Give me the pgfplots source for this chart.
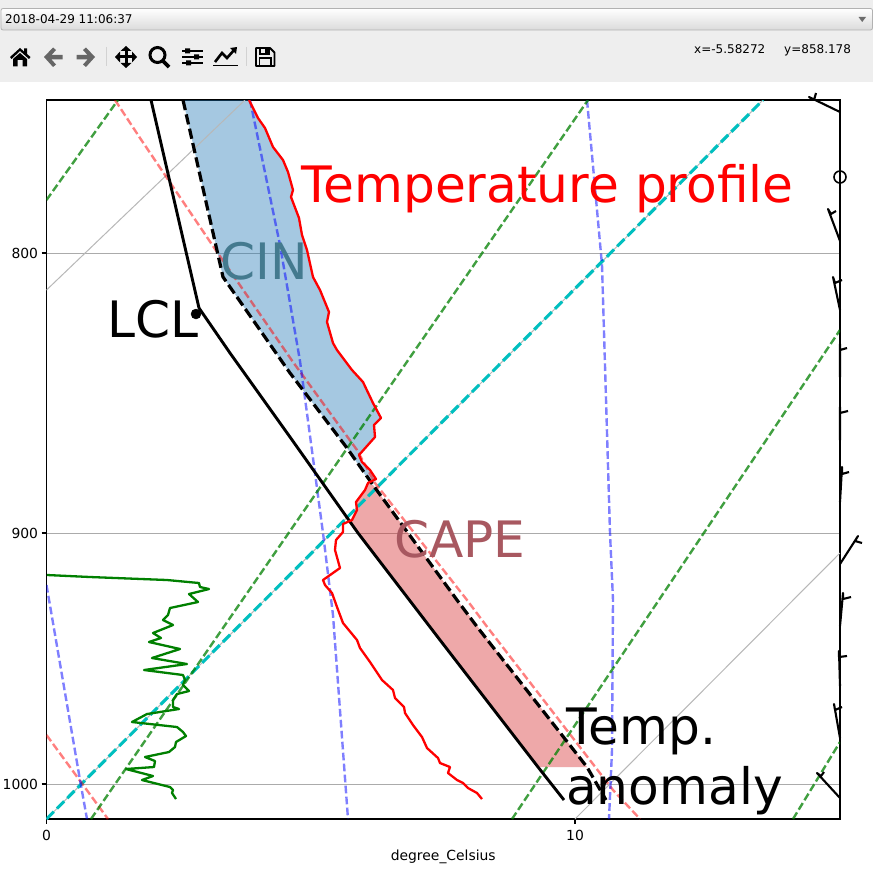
\documentclass[border=0pt]{standalone}
\usepackage{fontspec}
\setmainfont{DejaVu Sans}
\usepackage{pgfplots}
\pgfplotsset{compat=1.18}
\definecolor{cinc}{HTML}{1F77B4}
\definecolor{capec}{HTML}{D62728}
\definecolor{cintxt}{HTML}{447A8F}
\definecolor{capetxt}{HTML}{A85860}
\definecolor{gridc}{HTML}{ABABAB}
\definecolor{tealc}{HTML}{00BFBF}
\definecolor{tbar}{HTML}{EEEEEE}
\definecolor{icong}{HTML}{666666}
\pgfplotsset{
 base/.style={at={(46.5pt,-819pt)},anchor=south west,scale only axis,width=793.5pt,height=719pt,
  xmin=46.5,xmax=840,ymin=100,ymax=819,y dir=reverse},
 gl/.style={gridc!85!white,line width=1pt},
 pk/.style={red,opacity=0.5,line width=2.4pt,dash pattern=on 7.7pt off 3.3pt},
 bl/.style={blue,opacity=0.5,line width=2.4pt,dash pattern=on 7.7pt off 3.3pt},
 gr/.style={green!50!black,opacity=0.75,line width=2.4pt,dash pattern=on 7.7pt off 3.3pt},
 tl/.style={tealc,line width=3.1pt,dash pattern=on 10.3pt off 4.4pt},
 bb/.style={black,line width=2.1pt,line join=round},
}
\begin{document}
\begin{tikzpicture}
\path[use as bounding box,fill=white] (0pt,0pt) rectangle (873pt,-883pt);
\begin{scope}[x=1pt,y=-1pt]
\fill[tbar] (0,0) rectangle (873,82);
\shade[top color=white,bottom color=tbar!92!black,draw=gray!60,rounded corners=2pt,line width=0.8pt] (1,8.5) rectangle (872.5,30);
\node[anchor=base west,inner sep=0,font=\fontsize{12pt}{13pt}\selectfont] at (5,24) {2018-04-29 11:06:37};
\fill[gray!85!black] (858.5,17) -- (866,17) -- (862.2,22) -- cycle;
\node[anchor=base west,inner sep=0,font=\fontsize{12pt}{13pt}\selectfont] at (694,53) {x=-5.58272};
\node[anchor=base west,inner sep=0,font=\fontsize{12pt}{13pt}\selectfont] at (784,53) {y=858.178};
% home
\fill[black] (10,57) -- (20,48) -- (24,51.5) -- (24,48.5) -- (27,48.5) -- (27,54) -- (30.5,57) -- (29,59) -- (20,51) -- (11.5,59) -- cycle;
\fill[black] (13,59) -- (20,53) -- (27,59) -- (27,66.5) -- (22.5,66.5) -- (22.5,60) -- (17.5,60) -- (17.5,66.5) -- (13,66.5) -- cycle;
% back / forward
\fill[icong] (44,57) -- (53,47.5) -- (56,50) -- (51.5,55) -- (62.5,55) -- (62.5,59.5) -- (51.5,59.5) -- (56,64.5) -- (53,67) -- cycle;
\fill[icong] (95,57) -- (86,47.5) -- (83,50) -- (87.5,55) -- (76.5,55) -- (76.5,59.5) -- (87.5,59.5) -- (83,64.5) -- (86,67) -- cycle;
\draw[gray!35,line width=1pt] (106,47) -- (106,66);
\draw[gray!35,line width=1pt] (246,47) -- (246,66);
% move
\draw[black,line width=3pt] (117,57) -- (135,57) (126,48) -- (126,66);
\fill[black] (115,57) -- (120,51.5) -- (120,62.5) -- cycle (137,57) -- (132,51.5) -- (132,62.5) -- cycle (126,46) -- (120.5,51) -- (131.5,51) -- cycle (126,68) -- (120.5,63) -- (131.5,63) -- cycle;
% zoom
\draw[black,line width=3pt] (157.5,55) circle (7.5);
\draw[black,line width=3.8pt] (163,61) -- (169,67);
% sliders
\draw[black,line width=1.6pt] (182,51) -- (203,51) (182,57) -- (203,57) (182,63) -- (203,63);
\fill[black] (185,48.5) rectangle (190,53.5) (194,54.5) rectangle (199,59.5) (186,60.5) rectangle (191,65.5);
% chart
\draw[black,line width=1.6pt] (213,65.5) -- (238,65.5);
\draw[black,line width=2.6pt] (215,62) -- (222,53) -- (227,58) -- (235,49);
\fill[black] (237,47) -- (230,48) -- (236,54) -- cycle;
% save
\draw[black,line width=1.8pt,line join=round] (256,48) -- (270,48) -- (274.5,52.5) -- (274.5,66) -- (256,66) -- cycle;
\draw[black,line width=1.6pt] (259.5,66) -- (259.5,58) -- (271,58) -- (271,66);
\draw[black,line width=1.6pt] (260,48) -- (260,54) -- (269,54) -- (269,48);
\fill[black] (265,49) rectangle (268,53);
\end{scope}
\begin{axis}[base,
 axis line style={line width=1.1pt},
 xtick={46.5,575},xticklabels={0,10},
 ytick={253,533,784},yticklabels={800,900,1000},
 xtick pos=bottom,ytick pos=left,tick align=outside,
 major tick length=4.9pt,
 tick style={line width=1.1pt,black},
 ymajorgrids,grid style={gridc,line width=1pt},
 ticklabel style={font=\fontsize{13.9pt}{15pt}\selectfont},
 xticklabel style={yshift=-2.5pt},
 yticklabel style={xshift=0pt,yshift=-0.5pt},
 xlabel={degree\_Celsius},
 xlabel style={font=\fontsize{13.9pt}{15pt}\selectfont,yshift=-2.5pt},
]
% CIN area
\addplot[draw=none,fill=cinc,fill opacity=0.4] coordinates {
(249,100)(258,118)(265,128)(273,147)(283,160)(288,172)(293,190)(291,197)(299,218)(302,235)(307,250)(313,277)(320,290)(329,312)(327,322)(333,343)(337,350)(352,370)(363,382)(373,403)(381,418)(374,425)(375,437)(359,455)(362,462)(370,470)(376,479)(372,485)
(347,448)(290,373)(283,363)(223,277)(183,100)};
% CAPE area
\addplot[draw=none,fill=capec,fill opacity=0.4] coordinates {
(372,485)(368,483)(365,490)(356,502)(357,510)(352,520)(350,521)(358,533)(440,640)(538,767)(587,767)(457,600)(373,485)};
% thin grey skew lines
\addplot[gl] coordinates {(46.5,290)(245,100)};
\addplot[gl] coordinates {(575,819)(840,553)};
\addplot[gl] coordinates {(46.5,819)(763,100)};
\addplot[tl] coordinates {(46.5,819)(763,100)};
% dry adiabats
\addplot[pk] coordinates {(115,100)(140,138)(217,252)(293,362)(357,450)(375,483)(467,600)(488,628)(613,790)(640,819)};
\addplot[pk] coordinates {(46.5,735)(108,819)};
% moist adiabats
\addplot[bl] coordinates {(250,100)(280,245)(300,361)(323,533)(333,615)(348,819)};
\addplot[bl] coordinates {(587,100)(602,265)(610,533)(613,600)(612,750)(609,819)};
\addplot[bl] coordinates {(46.5,585)(80,780)(87,819)};
% mixing ratio
\addplot[gr] coordinates {(46.5,200)(118,100)};
\addplot[gr] coordinates {(91,819)(375,408)(588,100)};
\addplot[gr] coordinates {(512,819)(840,330)};
\addplot[gr] coordinates {(793,819)(840,742)};
% parcel profile
\addplot[black,line width=2.9pt,line join=round] coordinates {(151,100)(199,308)(230,353)(290,437)(358,533)(440,640)(538,767)(564,800)};
\addplot[black,line width=3.2pt,dash pattern=on 10.3pt off 4.4pt] coordinates {(183,100)(223,277)(283,363)(290,373)(347,448)(373,485)(457,600)(478,628)(587,767)(606,800)};
% temperature
\addplot[red,line width=2.3pt,line join=round] coordinates {
(249,100)(258,118)(265,128)(273,147)(283,160)(288,172)(293,190)(291,197)(299,218)(302,235)(307,250)(313,277)(320,290)(329,312)(327,322)(333,343)(337,350)(352,370)(363,382)(373,403)(381,418)(374,425)(375,437)(359,455)(362,462)(370,470)(376,479)(368,483)(365,490)(356,502)(357,510)(352,520)(343,524)(343,532)(336,540)(335,550)(340,568)(323,580)(325,585)(332,593)(337,607)(343,623)(357,640)(360,648)(370,662)(382,680)(393,690)(395,698)(404,707)(405,713)(413,725)(422,737)(427,748)(438,758)(440,763)(450,767)(448,773)(457,780)(463,783)(468,788)(477,793)(482,799)};
% dew point
\addplot[green!50!black,line width=2.3pt,line join=round] coordinates {
(47,575)(90,577)(167,580)(199,583)(200,587)(209,589)(189,594)(198,602)(170,608)(168,615)(163,620)(173,625)(153,633)(161,638)(149,642)(180,649)(152,658)(187,664)(144,670)(183,675)(185,680)(183,685)(189,691)(177,694)(173,700)(173,707)(179,709)(147,714)(132,722)(177,727)(183,732)(186,736)(176,742)(175,747)(169,752)(145,757)(155,761)(154,767)(126,769)(153,776)(142,780)(170,787)(173,790)(172,793)(176,799)};
\end{axis}
\begin{axis}[base,hide axis,clip=false]
% wind barbs
\addplot[bb] coordinates {(840,112)(809,97)(814,100)(816,93)};
\addplot[bb] coordinates {(840,241)(828,209)(831,214)(836,211)};
\addplot[bb] coordinates {(840,310)(833,277)(835,283)(842,280)};
\addplot[bb] coordinates {(840,377)(840,344)(840,350)(847,348)};
\addplot[bb] coordinates {(840,440)(840,407)(840,413)(848,411)};
\addplot[bb] coordinates {(840,502)(842,467)(842,474)(849,472)};
\addplot[bb] coordinates {(840,564)(858,536)(855,541)(862,543)};
\addplot[bb] coordinates {(840,626)(843,593)(843,599)(851,597)};
\addplot[bb] coordinates {(840,686)(839,651)(839,657)(847,656)};
\addplot[bb] coordinates {(840,738)(834,704)(835,710)(842,707)};
\addplot[bb] coordinates {(840,798)(817,773)(821,776)(824,772)};
\addplot[only marks,mark=o,mark size=6pt,mark options={line width=1.6pt,black,fill=none}] coordinates {(840,177)};
% LCL point
\addplot[only marks,mark=*,mark size=5pt,mark options={black}] coordinates {(196,314)};
\node[anchor=base west,inner sep=0,text=red,font=\fontsize{50.2pt}{55pt}\selectfont] at (axis cs:301,202) {Temperature profile};
\node[anchor=base west,inner sep=0,text=cintxt,font=\fontsize{50.2pt}{55pt}\selectfont] at (axis cs:220,279) {CIN};
\node[anchor=base west,inner sep=0,text=black,font=\fontsize{50.2pt}{55pt}\selectfont] at (axis cs:107,337) {LCL};
\node[anchor=base west,inner sep=0,text=capetxt,font=\fontsize{50.2pt}{55pt}\selectfont] at (axis cs:394,557) {CAPE};
\node[anchor=base west,inner sep=0,text=black,font=\fontsize{50.2pt}{55pt}\selectfont] at (axis cs:566,744.5) {Temp.};
\node[anchor=base west,inner sep=0,text=black,font=\fontsize{50.2pt}{55pt}\selectfont] at (axis cs:566,804) {anomaly};
\end{axis}
\end{tikzpicture}
\end{document}
